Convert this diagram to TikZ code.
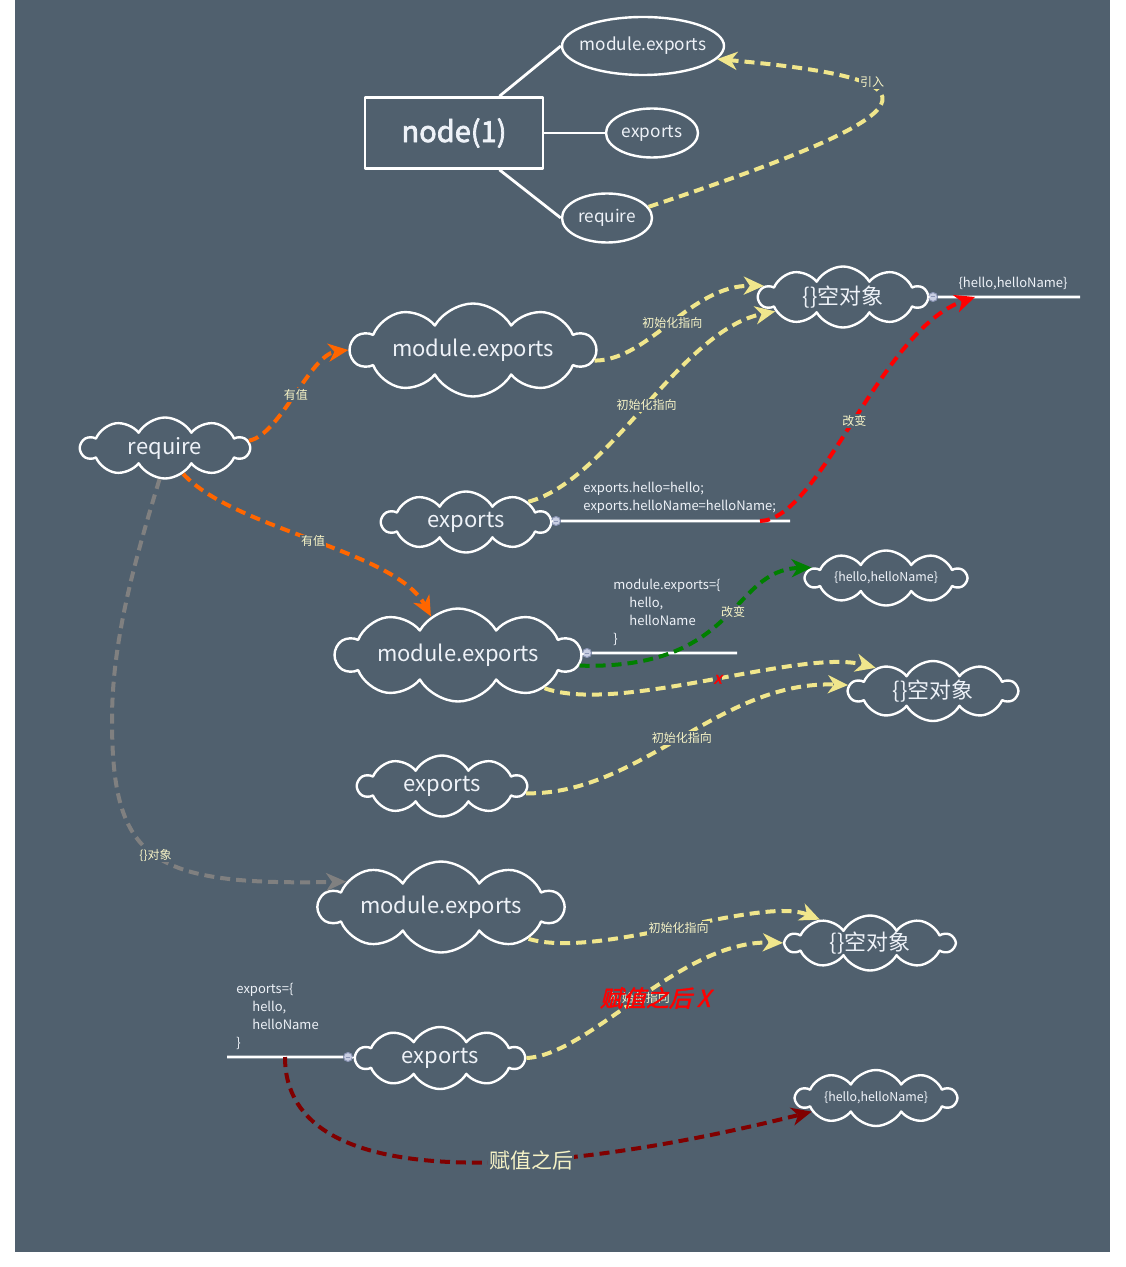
\documentclass[tikz,border=0pt]{standalone}
\usepackage{fontspec}
\setmainfont{Noto Sans CJK SC}
\newfontfamily\dam{Noto Sans CJK SC}[FakeBold=2.5]
\newfontfamily\nghieng{Noto Sans CJK SC}[FakeBold=2,FakeSlant=0.25]
\usetikzlibrary{shapes.symbols,shapes.geometric,arrows.meta}
\definecolor{nen}{HTML}{50606E}
\definecolor{vang}{HTML}{F0E68C}
\definecolor{cam}{HTML}{FF6600}
\definecolor{xanh}{HTML}{008000}
\definecolor{xam}{HTML}{808080}
\definecolor{nau}{HTML}{800000}
\definecolor{chu}{HTML}{EEF2F8}
\definecolor{chuvang}{HTML}{F6F3C6}
\definecolor{nut}{HTML}{C8CEE2}
\definecolor{vien}{HTML}{8A94B4}
\begin{document}
\begin{tikzpicture}[x=0.5pt, y=-0.5pt, line join=round,
 >={Stealth[length=10pt,width=9pt,inset=3pt]},
 trang/.style={white, line width=1.4pt},
 elip/.style={ellipse, draw=white, line width=1.2pt, text=chu, inner xsep=-8pt, inner ysep=0pt, font=\fontsize{8.6}{10}\selectfont},
 may/.style={cloud, cloud puffs=10, cloud puff arc=120, cloud ignores aspect, draw=white, line width=1.2pt, text=chu, inner sep=0pt, minimum width=84pt, minimum height=30.5pt, font=\fontsize{11}{13}\selectfont},
 maylon/.style={may, minimum width=122pt, minimum height=46.5pt},
 maynho/.style={may, minimum width=80pt, minimum height=27.5pt, font=\fontsize{6.2}{8}\selectfont},
 nutbam/.style={circle, draw=vien, line width=0.5pt, fill=nut, inner sep=0pt, minimum size=4.5pt, path picture={\draw[vien, line width=0.5pt] (-1.2pt,0pt)--(1.2pt,0pt);}},
 ma/.style={text=chu, font=\fontsize{6.5}{9}\selectfont, inner sep=0pt, align=left},
 nhan/.style={fill=nen, text=chuvang, inner sep=0.6pt, font=\fontsize{6}{7}\selectfont},
 duong/.style={->, dash pattern=on 5pt off 3pt, line width=2pt}]
% nền
\useasboundingbox (0,0) rectangle (1125,1267);
\fill[nen] (15,0) rectangle (1110,1252);
% phần trên: node(1)
\node[draw=white, line width=1.3pt, minimum width=89pt, minimum height=35.5pt, inner sep=0pt, text=chu, font=\dam\fontsize{14.5}{16}\selectfont] (goc) at (454,133) {node(1)};
\node[elip, minimum width=81pt, minimum height=29pt] (me0) at (643,46) {module.exports};
\node[elip, minimum width=46pt, minimum height=24.5pt] (ex0) at (652,133) {exports};
\node[elip, minimum width=45pt, minimum height=24.5pt] (rq0) at (607,218) {require};
\draw[trang] (goc.39) -- (me0.west);
\draw[trang] (goc.east) -- (ex0.west);
\draw[trang] (goc.-39) -- (rq0.west);
\draw[duong, vang] (rq0.15) .. controls (940,110) and (950,80) .. (me0.-10);
\node[nhan] (l0) at (872,82) {引入};
% các đám mây
\node[may] (rq1) at (165,448) {require};
\node[maylon] (me1) at (473,350) {module.exports};
\node[may] (ex1) at (466,522) {exports};
\node[may] (em1) at (843,297) {\{\}空对象};
\node[maylon] (me2) at (458,655) {module.exports};
\node[may] (ex2) at (442,786) {exports};
\node[maynho] (he2) at (886,578) {\{hello,helloName\}};
\node[may, minimum height=30pt] (em2) at (933,691) {\{\}空对象};
\node[maylon, minimum height=45.5pt] (me3) at (441,907) {module.exports};
\node[may, minimum height=27.5pt] (em3) at (870,943) {\{\}空对象};
\node[may, minimum height=31pt] (ex3) at (440,1058) {exports};
\node[maynho, minimum height=28pt] (he3) at (876,1098) {\{hello,helloName\}};
% đường trắng có nút
\node[nutbam] (k1) at (933,297) {};
\coordinate (c1) at (1080,297);
\draw[trang] (em1.east) -- (k1.west) (k1.east) -- (c1);
\node[ma] (t1) at (1013,284) {\{hello,helloName\}};
\node[nutbam] (k2) at (556,521) {};
\coordinate (c2) at (790,521);
\draw[trang] (ex1.east) -- (k2.west) (k2.east) -- (c2);
\node[ma, anchor=north west] (t2) at (583,482) {exports.hello=hello;\\exports.helloName=helloName;};
\node[nutbam] (k3) at (587,653) {};
\coordinate (c3) at (737,653);
\draw[trang] (me2.east) -- (k3.west) (k3.east) -- (c3);
\node[ma, anchor=north west] (t3) at (613,579) {module.exports=\{\\\hspace*{8pt}hello,\\\hspace*{8pt}helloName\\\}};
\node[nutbam] (k4) at (348,1057) {};
\coordinate (c4) at (227,1057);
\draw[trang] (ex3.west) -- (k4.east) (k4.west) -- (c4);
\node[ma, anchor=north west] (t4) at (236,983) {exports=\{\\\hspace*{8pt}hello,\\\hspace*{8pt}helloName\\\}};
% mũi tên
\draw[duong, cam] (rq1.5) .. controls (280,435) and (310,355) .. node[nhan, pos=0.5] (l1) {有值} (me1.west);
\draw[duong, cam] (rq1.-55) .. controls (235,530) and (395,550) .. node[nhan, pos=0.5] (l2) {有值} (me2.125);
\draw[duong, vang] (me1.-5) .. controls (650,360) and (690,285) .. node[nhan, pos=0.5] (l3) {初始化指向} (em1.172);
\draw[duong, vang] (ex1.18) .. controls (610,480) and (680,330) .. node[nhan, pos=0.5] (l4) {初始化指向} (em1.192);
\coordinate (d1) at (760,521);
\coordinate (d2) at (975,297);
\draw[duong, red] (d1) .. controls (820,520) and (880,330) .. node[nhan, pos=0.5] (l5) {改变} (d2);
\draw[duong, xanh] (me2.-5) .. controls (740,670) and (730,570) .. node[nhan, pos=0.55] (l6) {改变} (he2.172);
\draw[duong, vang] (me2.-21) .. controls (620,715) and (800,648) .. node[pos=0.52, fill=nen, text=red, inner sep=0.3pt, font=\nghieng\fontsize{8}{9}\selectfont] (l7) {x} (em2.158);
\draw[duong, vang] (ex2.-5) .. controls (640,795) and (720,680) .. node[nhan, pos=0.5] (l8) {初始化指向} (em2.176);
\draw[duong, xam] (rq1.-100) .. controls (135,560) and (112,640) .. (112,720) .. controls (112,860) and (150,886) .. node[nhan, pos=0.5] (l9) {\{\}对象} (me3.165);
\draw[duong, vang] (me3.-20) .. controls (600,960) and (760,895) .. node[nhan, pos=0.5] (l10) {初始化指向} (em3.155);
\draw[duong, vang] (ex3.east) .. controls (590,1055) and (680,940) .. node[nhan, pos=0.5] (l11) {初始化指向} (em3.west);
\node[text=red, inner sep=0pt, font=\nghieng\fontsize{11.5}{13}\selectfont] (t5) at (655,998) {赋值之后 X};
\coordinate (d3) at (285,1057);
\draw[duong, nau] (d3) .. controls (285,1200) and (560,1175) .. node[nhan, pos=0.62, font=\fontsize{10.5}{12}\selectfont] (l12) {赋值之后} (he3.192);
\end{tikzpicture}
\end{document}
